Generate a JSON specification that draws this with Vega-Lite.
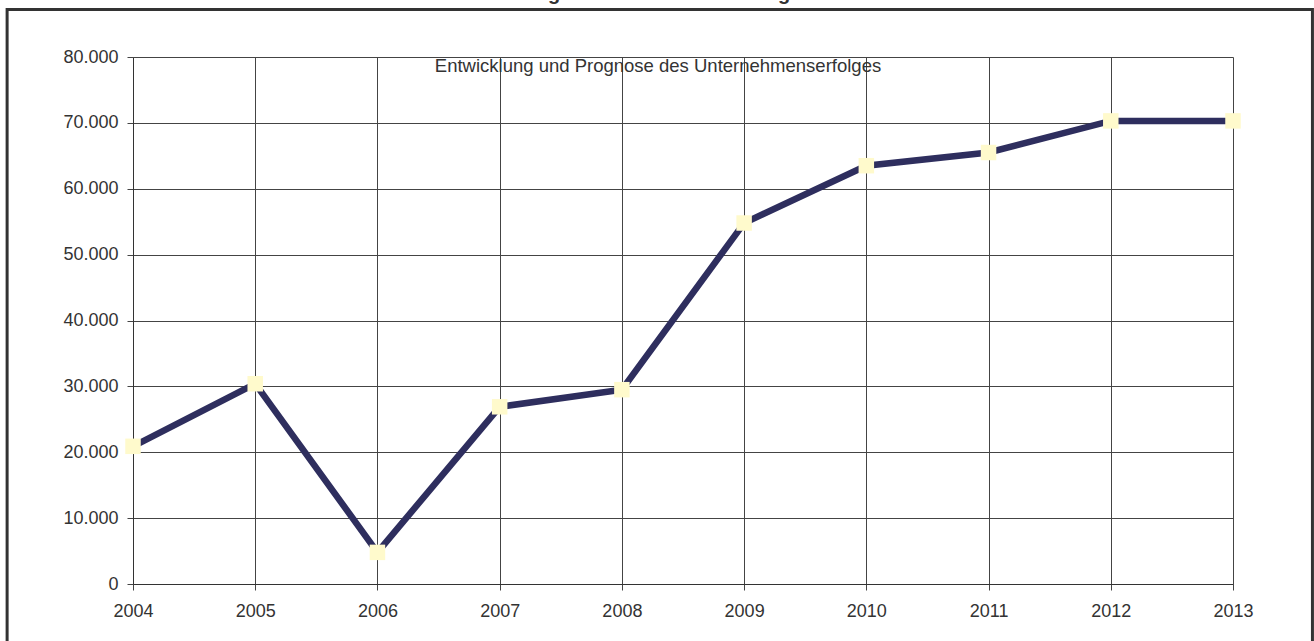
{
  "$schema": "https://vega.github.io/schema/vega-lite/v6.json",
  "width": 1100,
  "height": 527,
  "autosize": {"type": "none"},
  "padding": {"left": 133, "top": 57, "right": 81, "bottom": 57},
  "background": "#ffffff",
  "config": {
    "locale": {"number": {"decimal": ",", "thousands": ".", "grouping": [3], "currency": ["", " €"]}},
    "view": {"stroke": null},
    "font": "Liberation Sans"
  },
  "title": {
    "text": "Prognose der Zukunftserträge",
    "subtitle": "Entwicklung und Prognose des Unternehmenserfolges",
    "fontSize": 20,
    "fontWeight": "bold",
    "color": "#333333",
    "subtitleFontSize": 18.5,
    "subtitleColor": "#333333",
    "subtitlePadding": 53,
    "offset": -67,
    "anchor": "middle",
    "frame": "group",
    "dx": -25
  },
  "layer": [
    {
      "data": {"values": [
        {"Jahr": 2004, "Ertrag": 20900},
        {"Jahr": 2005, "Ertrag": 30400},
        {"Jahr": 2006, "Ertrag": 4800},
        {"Jahr": 2007, "Ertrag": 26900},
        {"Jahr": 2008, "Ertrag": 29500},
        {"Jahr": 2009, "Ertrag": 54800},
        {"Jahr": 2010, "Ertrag": 63500},
        {"Jahr": 2011, "Ertrag": 65500},
        {"Jahr": 2012, "Ertrag": 70300},
        {"Jahr": 2013, "Ertrag": 70300}
      ]},
      "layer": [
        {
          "mark": {"type": "line", "color": "#2e2e5e", "strokeWidth": 6.5},
          "encoding": {}
        },
        {
          "mark": {"type": "point", "shape": "square", "filled": true, "fill": "#fffacc", "opacity": 1, "size": 240, "strokeWidth": 0}
        }
      ],
      "encoding": {
        "x": {
          "field": "Jahr",
          "type": "quantitative",
          "scale": {"domain": [2004, 2013], "nice": false, "zero": false},
          "axis": {
            "title": null,
            "grid": true,
            "values": [2004, 2005, 2006, 2007, 2008, 2009, 2010, 2011, 2012, 2013],
            "format": "d",
            "labelFontSize": 18,
            "labelColor": "#333333",
            "labelPadding": 12,
            "tickSize": 6,
            "tickColor": "#444444",
            "domainColor": "#333333",
            "gridColor": "#444444",
            "gridOpacity": 1,
            "labelFlush": false
          }
        },
        "y": {
          "field": "Ertrag",
          "type": "quantitative",
          "scale": {"domain": [0, 80000], "nice": false},
          "axis": {
            "title": null,
            "grid": true,
            "values": [0, 10000, 20000, 30000, 40000, 50000, 60000, 70000, 80000],
            "format": ",.0f",
            "labelFontSize": 18,
            "labelColor": "#333333",
            "labelPadding": 9,
            "tickSize": 6,
            "tickColor": "#444444",
            "domainColor": "#333333",
            "gridColor": "#444444",
            "gridOpacity": 1
          }
        }
      }
    },
    {
      "data": {"values": [{"frame": 1}]},
      "mark": {"type": "rect", "fill": null, "stroke": "#333333", "strokeWidth": 3},
      "encoding": {
        "x": {"datum": 2002.97, "type": "quantitative"},
        "x2": {"datum": 2013.65},
        "y": {"datum": 87200, "type": "quantitative"},
        "y2": {"datum": -13000}
      }
    }
  ]
}
